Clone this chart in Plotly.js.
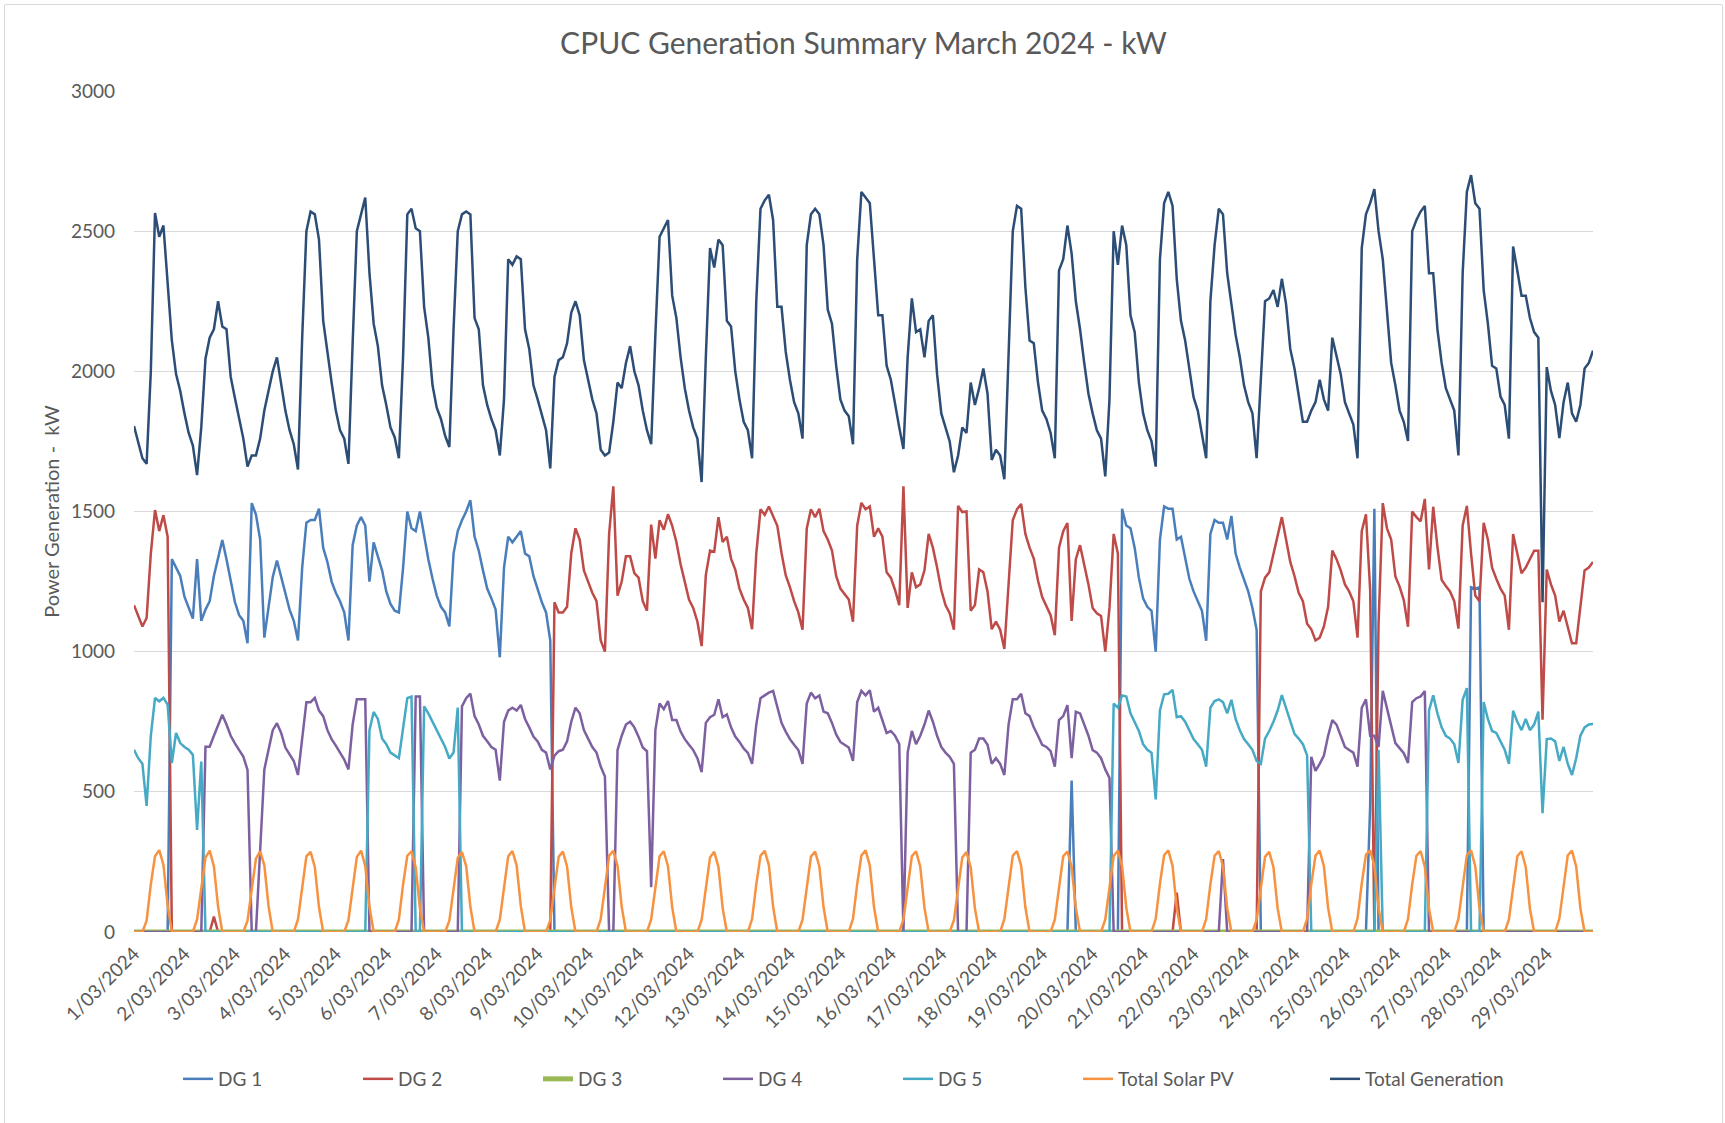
<!DOCTYPE html>
<html>
<head>
<meta charset="utf-8">
<script src="https://cdn.plot.ly/plotly-3.0.1.min.js"></script>
<style>
html,body{margin:0;padding:0;background:#fff;}
#wrap{position:relative;width:1725px;height:1123px;overflow:hidden;}
#frame{position:absolute;left:4px;top:4px;width:1717px;height:1130px;border:1px solid #d9d9d9;border-radius:2px;pointer-events:none;z-index:5;}
#chart{position:absolute;left:0;top:0;width:1725px;height:1123px;}
</style>
</head>
<body>
<div id="wrap"><div id="chart"></div><div id="frame"></div></div>
<script>
// Sampling hours within each day (one row per day, 1/03 .. 29/03)
const hoursOfDay = [0,2,4,6,8,10,12,14,16,18,20,22];
const tickLabels = ['1/03/2024','2/03/2024','3/03/2024','4/03/2024','5/03/2024','6/03/2024','7/03/2024','8/03/2024','9/03/2024','10/03/2024','11/03/2024','12/03/2024','13/03/2024','14/03/2024','15/03/2024','16/03/2024','17/03/2024','18/03/2024','19/03/2024','20/03/2024','21/03/2024','22/03/2024','23/03/2024','24/03/2024','25/03/2024','26/03/2024','27/03/2024','28/03/2024','29/03/2024'];

const dg1 = [
[0,0,0,0,0,0,0,0,0,1330,1300,1270],
[1196,1160,1118,1330,1110,1150,1180,1270,1332,1398,1330,1248],
[1177,1130,1110,1030,1530,1489,1400,1050,1160,1266,1325,1266],
[1200,1150,1110,1040,1300,1460,1470,1470,1510,1370,1320,1250],
[1210,1180,1140,1040,1380,1450,1480,1450,1250,1390,1340,1290],
[1215,1170,1146,1140,1300,1500,1440,1430,1500,1410,1330,1260],
[1200,1160,1140,1090,1350,1430,1469,1500,1540,1410,1360,1290],
[1225,1190,1150,980,1300,1410,1390,1410,1430,1350,1340,1270],
[1220,1176,1140,1040,0,0,0,0,0,0,0,0],
[0,0,0,0,0,0,0,0,0,0,0,0],
[0,0,0,0,0,0,0,0,0,0,0,0],
[0,0,0,0,0,0,0,0,0,0,0,0],
[0,0,0,0,0,0,0,0,0,0,0,0],
[0,0,0,0,0,0,0,0,0,0,0,0],
[0,0,0,0,0,0,0,0,0,0,0,0],
[0,0,0,0,0,0,0,0,0,0,0,0],
[0,0,0,0,0,0,0,0,0,0,0,0],
[0,0,0,0,0,0,0,0,0,0,0,0],
[0,0,0,0,0,0,0,540,0,0,0,0],
[0,0,0,0,0,0,0,1510,1450,1440,1370,1264],
[1190,1160,1146,1000,1400,1518,1510,1510,1400,1410,1340,1260],
[1215,1180,1146,1039,1420,1470,1460,1460,1400,1484,1350,1300],
[1254,1215,1156,1078,0,0,0,0,0,0,0,0],
[0,0,0,0,0,0,0,0,0,0,0,0],
[0,0,0,0,0,0,450,1510,0,0,0,0],
[0,0,0,0,0,0,0,0,0,0,0,0],
[0,0,0,0,0,0,1230,1225,1230,0,0,0],
[0,0,0,0,0,0,0,0,0,0,0,0],
[0,0,0,0,0,0,0,0,0,0,0,0]
];

const dg2 = [
[1166,1130,1090,1120,1350,1505,1430,1487,1410,0,0,0],
[0,0,0,0,0,0,0,55,0,0,0,0],
[0,0,0,0,0,0,0,0,0,0,0,0],
[0,0,0,0,0,0,0,0,0,0,0,0],
[0,0,0,0,0,0,0,0,0,0,0,0],
[0,0,0,0,0,0,0,0,0,0,0,0],
[0,0,0,0,0,0,0,0,0,0,0,0],
[0,0,0,0,0,0,0,0,0,0,0,0],
[0,0,0,0,1176,1140,1140,1160,1351,1440,1400,1290],
[1250,1210,1180,1040,1000,1420,1590,1200,1250,1340,1340,1280],
[1264,1180,1146,1453,1332,1469,1435,1490,1449,1391,1312,1254],
[1186,1156,1107,1020,1273,1361,1357,1480,1391,1410,1332,1293],
[1225,1186,1156,1080,1350,1508,1488,1518,1480,1449,1352,1273],
[1230,1180,1140,1078,1439,1508,1480,1510,1430,1400,1361,1270],
[1225,1205,1186,1107,1450,1531,1508,1518,1410,1440,1410,1283],
[1264,1220,1166,1590,1156,1283,1230,1240,1290,1420,1371,1300],
[1220,1166,1137,1078,1520,1498,1500,1146,1166,1293,1283,1215],
[1080,1107,1078,1010,1250,1469,1508,1527,1420,1371,1332,1254],
[1195,1160,1130,1059,1371,1430,1459,1110,1330,1380,1312,1240],
[1156,1137,1127,1000,1156,1420,1350,0,0,0,0,0],
[0,0,0,0,0,0,0,0,140,0,0,0],
[0,0,0,0,0,0,0,0,0,0,0,0],
[0,0,0,0,1215,1264,1283,1351,1420,1480,1400,1320],
[1270,1210,1180,1100,1080,1040,1050,1090,1160,1361,1330,1290],
[1240,1215,1180,1050,1430,1490,1220,0,1100,1530,1440,1400],
[1268,1232,1184,1089,1500,1480,1465,1545,1293,1517,1374,1256],
[1234,1215,1180,1082,1450,1520,1350,1200,1180,1460,1400,1300],
[1260,1225,1200,1078,1420,1350,1280,1300,1330,1360,1360,757],
[1293,1240,1200,1107,1146,1090,1030,1030,1160,1290,1300,1320]
];

const dg3 = [
[0,0,0,0,0,0,0,0,0,0,0,0],[0,0,0,0,0,0,0,0,0,0,0,0],[0,0,0,0,0,0,0,0,0,0,0,0],
[0,0,0,0,0,0,0,0,0,0,0,0],[0,0,0,0,0,0,0,0,0,0,0,0],[0,0,0,0,0,0,0,0,0,0,0,0],
[0,0,0,0,0,0,0,0,0,0,0,0],[0,0,0,0,0,0,0,0,0,0,0,0],[0,0,0,0,0,0,0,0,0,0,0,0],
[0,0,0,0,0,0,0,0,0,0,0,0],[0,0,0,0,0,0,0,0,0,0,0,0],[0,0,0,0,0,0,0,0,0,0,0,0],
[0,0,0,0,0,0,0,0,0,0,0,0],[0,0,0,0,0,0,0,0,0,0,0,0],[0,0,0,0,0,0,0,0,0,0,0,0],
[0,0,0,0,0,0,0,0,0,0,0,0],[0,0,0,0,0,0,0,0,0,0,0,0],[0,0,0,0,0,0,0,0,0,0,0,0],
[0,0,0,0,0,0,0,0,0,0,0,0],[0,0,0,0,0,0,0,0,0,0,0,0],[0,0,0,0,0,0,0,0,0,0,0,0],
[0,0,0,0,0,0,0,0,0,0,0,0],[0,0,0,0,0,0,0,0,0,0,0,0],[0,0,0,0,0,0,0,0,0,0,0,0],
[0,0,0,0,0,0,0,0,0,0,0,0],[0,0,0,0,0,0,0,0,0,0,0,0],[0,0,0,0,0,0,0,0,0,0,0,0],
[0,0,0,0,0,0,0,0,0,0,0,0],[0,0,0,0,0,0,0,0,0,0,0,0]
];

const dg4 = [
[0,0,0,0,0,0,0,0,0,0,0,0],
[0,0,0,0,0,661,661,700,740,775,740,700],
[673,650,626,578,0,0,269,580,650,720,745,710],
[658,635,610,560,700,820,820,835,790,770,720,688],
[665,640,615,580,740,830,830,830,0,0,0,0],
[0,0,0,0,0,0,0,840,840,0,0,0],
[0,0,0,0,0,0,805,834,850,770,740,700],
[680,660,650,540,750,790,800,790,810,760,730,697],
[680,650,640,580,629,645,650,680,750,800,780,720],
[690,660,640,590,555,0,0,649,700,740,750,730],
[697,658,645,160,720,815,795,824,756,756,715,688],
[668,649,620,570,746,766,775,830,766,776,730,697],
[678,655,639,600,740,834,844,854,860,805,746,715],
[688,668,649,600,815,854,834,844,786,780,746,705],
[678,668,658,610,820,860,844,862,786,800,756,710],
[717,700,670,0,640,717,670,700,740,790,750,700],
[660,640,625,600,0,0,0,640,650,690,690,668],
[600,620,600,560,740,830,830,850,780,770,730,700],
[668,660,645,590,756,770,809,620,786,780,740,700],
[649,640,620,580,550,0,0,0,0,0,0,0],
[0,0,0,0,0,0,0,0,0,0,0,0],
[0,0,0,0,0,0,0,260,0,0,0,0],
[0,0,0,0,0,0,0,0,0,0,0,0],
[0,0,0,0,625,575,600,629,700,756,740,700],
[660,649,640,590,800,830,700,700,660,860,800,740],
[674,656,638,603,820,834,840,860,0,0,0,0],
[0,0,0,0,0,0,0,0,0,0,0,0],
[0,0,0,0,0,0,0,0,0,0,0,0],
[0,0,0,0,0,0,0,0,0,0,0,0]
];

const dg5 = [
[650,620,600,450,700,835,823,835,811,603,710,674],
[660,650,632,364,608,0,0,0,0,0,0,0],
[0,0,0,0,0,0,0,0,0,0,0,0],
[0,0,0,0,0,0,0,0,0,0,0,0],
[0,0,0,0,0,0,0,0,720,785,760,690],
[670,640,630,620,727,834,840,0,0,805,780,750],
[720,690,660,619,640,800,0,0,0,0,0,0],
[0,0,0,0,0,0,0,0,0,0,0,0],
[0,0,0,0,0,0,0,0,0,0,0,0],
[0,0,0,0,0,0,0,0,0,0,0,0],
[0,0,0,0,0,0,0,0,0,0,0,0],
[0,0,0,0,0,0,0,0,0,0,0,0],
[0,0,0,0,0,0,0,0,0,0,0,0],
[0,0,0,0,0,0,0,0,0,0,0,0],
[0,0,0,0,0,0,0,0,0,0,0,0],
[0,0,0,0,0,0,0,0,0,0,0,0],
[0,0,0,0,0,0,0,0,0,0,0,0],
[0,0,0,0,0,0,0,0,0,0,0,0],
[0,0,0,0,0,0,0,0,0,0,0,0],
[0,0,0,0,0,815,800,844,840,780,750,717],
[670,650,640,473,790,848,850,864,766,770,750,720],
[688,670,650,590,800,824,830,820,780,828,760,720],
[688,670,650,610,600,690,717,750,790,845,800,760],
[707,690,670,630,0,0,0,0,0,0,0,0],
[0,0,0,0,0,0,0,0,650,0,0,0],
[0,0,0,0,0,0,0,0,790,844,780,730],
[700,690,670,603,828,870,0,0,0,820,760,717],
[710,680,650,600,789,750,720,760,720,740,786,424],
[688,690,680,610,660,600,560,620,700,730,740,742]
];

const solarPV = [
[0,0,0,40,170,270,292,240,95,0,0,0],
[0,0,0,45,165,265,290,235,90,0,0,0],
[0,0,0,40,160,262,288,238,92,0,0,0],
[0,0,0,45,168,270,286,232,88,0,0,0],
[0,0,0,42,165,268,290,236,90,0,0,0],
[0,0,0,45,170,272,288,230,85,0,0,0],
[0,0,0,40,162,265,285,235,90,0,0,0],
[0,0,0,44,166,270,289,238,92,0,0,0],
[0,0,0,42,164,268,287,234,88,0,0,0],
[0,0,0,46,170,272,290,236,90,0,0,0],
[0,0,0,45,168,270,288,235,88,0,0,0],
[0,0,0,43,165,266,286,232,86,0,0,0],
[0,0,0,46,170,272,290,238,90,0,0,0],
[0,0,0,44,166,269,287,234,88,0,0,0],
[0,0,0,47,171,273,291,237,89,0,0,0],
[0,0,0,45,168,270,288,233,86,0,0,0],
[0,0,0,42,163,266,285,230,84,0,0,0],
[0,0,0,46,170,272,289,236,88,0,0,0],
[0,0,0,44,167,270,287,233,86,0,0,0],
[0,0,0,45,168,271,290,235,87,0,0,0],
[0,0,0,47,172,274,291,236,86,0,0,0],
[0,0,0,46,170,272,289,234,85,0,0,0],
[0,0,0,44,166,268,286,231,84,0,0,0],
[0,0,0,47,171,273,290,235,86,0,0,0],
[0,0,0,48,173,275,292,236,85,0,0,0],
[0,0,0,46,170,272,289,233,84,0,0,0],
[0,0,0,47,171,274,291,235,85,0,0,0],
[0,0,0,45,168,270,288,232,83,0,0,0],
[0,0,0,48,172,274,290,234,84,0,0,0]
];

const totalGeneration = [
[1805,1745,1690,1670,2000,2565,2480,2520,2300,2110,1990,1930],
[1850,1780,1735,1630,1800,2045,2120,2150,2250,2160,2150,1980],
[1905,1830,1760,1660,1700,1700,1760,1860,1930,2000,2050,1960],
[1860,1790,1740,1650,2120,2500,2570,2560,2470,2180,2060,1960],
[1860,1790,1760,1670,2100,2500,2560,2620,2350,2170,2090,1950],
[1880,1800,1765,1690,2055,2560,2580,2510,2500,2230,2120,1950],
[1870,1830,1770,1730,2150,2500,2560,2570,2560,2190,2150,1950],
[1880,1830,1790,1700,1900,2400,2380,2410,2400,2150,2080,1950],
[1900,1840,1790,1654,1980,2040,2050,2100,2210,2250,2200,2040],
[1970,1900,1850,1720,1700,1710,1820,1960,1940,2030,2090,2000],
[1950,1860,1790,1740,2130,2480,2510,2540,2270,2190,2050,1940],
[1860,1800,1760,1605,2050,2440,2370,2470,2450,2180,2160,2000],
[1900,1820,1790,1690,2250,2580,2610,2630,2540,2230,2230,2070],
[1970,1890,1850,1760,2450,2560,2580,2560,2450,2220,2170,2020],
[1900,1860,1840,1740,2400,2640,2620,2600,2400,2200,2200,2020],
[1970,1880,1800,1723,2050,2260,2140,2150,2050,2180,2200,1990],
[1850,1800,1750,1640,1700,1800,1780,1960,1880,1940,2010,1920],
[1684,1720,1700,1615,2100,2500,2590,2580,2300,2110,2100,1960],
[1860,1830,1780,1690,2360,2400,2520,2420,2250,2150,2030,1920],
[1850,1790,1760,1625,1900,2500,2380,2520,2450,2200,2140,1960],
[1850,1790,1750,1660,2400,2600,2640,2590,2330,2180,2110,2000],
[1908,1860,1780,1690,2250,2450,2580,2560,2350,2240,2130,2050],
[1950,1890,1850,1690,1950,2250,2260,2290,2230,2330,2240,2080],
[2010,1910,1820,1820,1860,1890,1970,1900,1860,2120,2060,1990],
[1890,1850,1810,1690,2440,2560,2600,2650,2500,2400,2230,2030],
[1950,1860,1820,1752,2500,2540,2570,2590,2350,2350,2150,2030],
[1940,1900,1860,1700,2350,2640,2700,2600,2580,2290,2170,2020],
[2010,1910,1880,1760,2445,2360,2270,2270,2190,2140,2120,1176],
[2015,1930,1880,1762,1890,1960,1850,1820,1880,2010,2030,2074]
];

// ---- build time axis from the day rows ----
function pad(n){return String(n).padStart(2,'0');}
const times = [];
for (let d = 1; d <= tickLabels.length; d++) {
  for (const h of hoursOfDay) times.push('2024-03-' + pad(d) + ' ' + pad(h) + ':00');
}
const tickVals = tickLabels.map((_, i) => '2024-03-' + pad(i + 1) + ' 00:00');

const seriesDefs = [
  {name:'DG 1', data:dg1, color:'#4A7EBB', width:2.5},
  {name:'DG 2', data:dg2, color:'#BE4B48', width:2.5},
  {name:'DG 3', data:dg3, color:'#98B954', width:5},
  {name:'DG 4', data:dg4, color:'#7D60A0', width:2.5},
  {name:'DG 5', data:dg5, color:'#46AAC5', width:2.5},
  {name:'Total Solar PV', data:solarPV, color:'#F69240', width:2.5},
  {name:'Total Generation', data:totalGeneration, color:'#2C4D75', width:2.5, legend:'legend2'}
];

const traces = seriesDefs.map(s => {
  const t = {
    type:'scatter', mode:'lines', name:s.name,
    x: times, y: s.data.flat(),
    line:{color:s.color, width:s.width},
    hoverinfo:'skip'
  };
  if (s.legend) t.legend = s.legend;
  return t;
});

const fontFam = 'Lato, "Open Sans", "Liberation Sans", sans-serif';
const legendY = (932 - 1079) / 841;
const layout = {
  width:1725, height:1123,
  margin:{l:134, r:132, t:91, b:191, pad:0},
  paper_bgcolor:'#ffffff', plot_bgcolor:'#ffffff',
  font:{family:fontFam, color:'#595959', size:19},
  title:{
    text:'CPUC Generation Summary March 2024 - kW',
    font:{family:fontFam, size:30, color:'#595959'},
    x:0.5, xref:'paper', xanchor:'center',
    y:1 - 43/1123, yref:'container', yanchor:'middle'
  },
  xaxis:{
    type:'date',
    range:[times[0], times[times.length - 1]],
    tickmode:'array', tickvals:tickVals, ticktext:tickLabels,
    tickangle:-45, showgrid:false, zeroline:false, showline:false,
    ticks:'', ticklabelstandoff:6,
    tickfont:{family:fontFam, size:19, color:'#595959'},
    fixedrange:true
  },
  yaxis:{
    range:[0,3000], tick0:0, dtick:500,
    showgrid:true, gridcolor:'#d9d9d9', gridwidth:1.2,
    zeroline:false, showline:false, ticks:'', ticklabelstandoff:18,
    tickfont:{family:fontFam, size:19, color:'#595959'},
    title:{text:'Power Generation -  kW', font:{family:fontFam, size:20, color:'#595959'}, standoff:5},
    fixedrange:true
  },
  showlegend:true,
  legend:{
    orientation:'h', x:(178-134)/1459, xanchor:'left',
    y:legendY, yanchor:'middle',
    entrywidth:135, entrywidthmode:'pixels',
    font:{family:fontFam, size:19, color:'#595959'},
    traceorder:'normal', bgcolor:'rgba(0,0,0,0)'
  },
  legend2:{
    orientation:'h', x:(1325-134)/1459, xanchor:'left',
    y:legendY, yanchor:'middle',
    font:{family:fontFam, size:19, color:'#595959'},
    bgcolor:'rgba(0,0,0,0)'
  },
  hovermode:false
};

Plotly.newPlot('chart', traces, layout, {staticPlot:true, displayModeBar:false});
</script>
</body>
</html>
